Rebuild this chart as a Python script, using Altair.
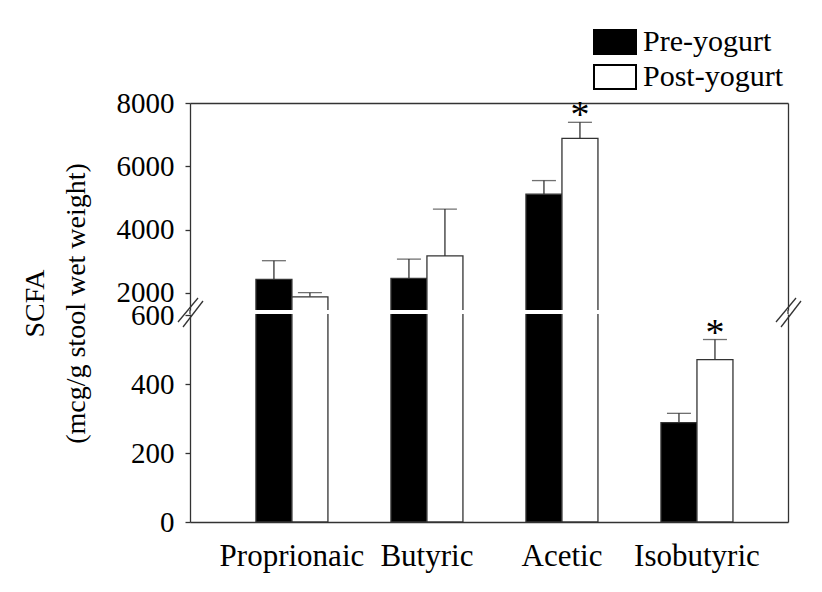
import altair as alt
import pandas as pd

# ---------------- data ----------------
categories = ["Proprionaic", "Butyric", "Acetic", "Isobutyric"]
groups = ["Pre-yogurt", "Post-yogurt"]
pre_mean = [2430, 2460, 5120, 288]
pre_upper = [3020, 3070, 5550, 315]
post_mean = [1880, 3170, 6880, 471]
post_upper = [2010, 4650, 7390, 529]
post_significant = [False, False, True, True]

rows = []
for i, c in enumerate(categories):
    rows.append({"category": c, "group": groups[0], "value": pre_mean[i],
                 "upper": pre_upper[i], "star": ""})
    rows.append({"category": c, "group": groups[1], "value": post_mean[i],
                 "upper": post_upper[i],
                 "star": "*" if post_significant[i] else ""})
df = pd.DataFrame(rows)

# ---------------- styling ----------------
FONT = "Liberation Serif"
LINE = "#333333"
W = 598
H_TOP = 207
H_BOT = 208
TOP_DOMAIN = [1463, 8000]
BOT_DOMAIN = [0, 603]

x_scale = alt.Scale(paddingInner=0.4667, paddingOuter=0.448, align=0.545)
xoff = alt.XOffset("group:N", sort=groups,
                   scale=alt.Scale(paddingInner=0, paddingOuter=0))
color = alt.Color(
    "group:N", sort=groups,
    scale=alt.Scale(domain=groups, range=["#000000", "#ffffff"]),
    legend=alt.Legend(
        orient="none", legendX=410, legendY=-76, title=None,
        labelFont=FONT, labelFontSize=30, labelColor="#000",
        symbolType="M-1.75,-1L1.75,-1L1.75,1L-1.75,1Z", symbolSize=576,
        symbolStrokeColor="#000", symbolStrokeWidth=2, symbolOpacity=1,
        rowPadding=3, labelOffset=13, padding=0,
    ),
)


def seg(x1, y1, x2, y2):
    return alt.Chart(alt.Data(values=[{}])).mark_rule(
        color=LINE, strokeWidth=1.3
    ).encode(x=alt.value(x1), y=alt.value(y1), x2=alt.value(x2), y2=alt.value(y2))


def panel(domain, height, yvalues, bottom, title):
    if bottom:
        xaxis = alt.Axis(orient="bottom", title=None, ticks=False, labelAngle=0,
                         labelFont=FONT, labelFontSize=31, labelColor="#000",
                         labelPadding=19, domainColor=LINE, domainWidth=1.3)
    else:
        xaxis = alt.Axis(orient="top", title=None, ticks=False, labels=False,
                         domainColor=LINE, domainWidth=1.3)
    x = alt.X("category:N", sort=categories, scale=x_scale, axis=xaxis)

    left_kwargs = dict(
        orient="left", values=yvalues, format="d", labelOverlap=False,
        labelFont=FONT, labelFontSize=29, labelColor="#000", labelPadding=11,
        tickSize=5, tickColor=LINE, tickWidth=1.3, domainColor=LINE,
        domainWidth=1.3, grid=False,
    )
    if title:
        left_kwargs.update(
            title=["SCFA", "(mcg/g stool wet weight)"], titleFont=FONT,
            titleFontSize=28, titleFontWeight="normal", titleColor="#000",
            titleAngle=270, titleX=-155, titleY=200, titleAlign="center",
            titleBaseline="middle", titleLineHeight=41,
        )
    else:
        left_kwargs.update(title=None)
    yaxis_left = alt.Axis(**left_kwargs)
    yaxis_right = alt.Axis(orient="right", title=None, labels=False, ticks=False,
                           grid=False, domainColor=LINE, domainWidth=1.3)

    base = alt.Chart(df)
    bars = base.mark_bar(stroke=LINE, strokeWidth=1.3, clip=True).encode(
        x=x, xOffset=xoff,
        y=alt.Y("value:Q", scale=alt.Scale(domain=domain, nice=False, zero=False),
                axis=yaxis_left),
        color=color,
    )
    errs = base.mark_rule(color=LINE, strokeWidth=1.3, clip=True).encode(
        x=x, xOffset=xoff,
        y=alt.Y("value:Q", axis=yaxis_right),
        y2="upper:Q",
    )
    caps = base.mark_tick(color=LINE, thickness=1.3, size=24, clip=True).encode(
        x=x, xOffset=xoff,
        y=alt.Y("upper:Q", axis=None),
    )
    stars = base.transform_filter(
        (alt.datum.star != "") & (alt.datum.upper >= domain[0]) & (alt.datum.upper <= domain[1])
    ).mark_text(font=FONT, fontSize=38, baseline="alphabetic", dy=5, color="#000").encode(
        x=x, xOffset=xoff,
        y=alt.Y("upper:Q", axis=None),
        text="star:N",
    )
    layers = [errs, caps, bars, stars]
    return alt.layer(*layers).resolve_axis(y="independent").properties(
        width=W, height=height
    )


top = panel(TOP_DOMAIN, H_TOP, [2000, 4000, 6000, 8000], bottom=False, title=True)
# axis-break marks and frame bridging (decoration, in top-panel pixel coords)
decor = [
    seg(-12, 219, 8, 195), seg(-7, 224, 13, 198),
    seg(W - 12, 219, W + 8, 195), seg(W - 7, 224, W + 13, 198),
    seg(0, H_TOP, 0, H_TOP + 4), seg(W, H_TOP, W, H_TOP + 4),
]
top = alt.layer(top, *decor)
bottom = panel(BOT_DOMAIN, H_BOT, [0, 200, 400, 600], bottom=True, title=False)

chart = alt.vconcat(top, bottom, spacing=4, bounds="flush").configure_view(
    stroke=None
).properties(
    padding={"left": 13, "top": 19, "right": 5, "bottom": 5}
)

chart.save("out.html", embed_options={"renderer": "svg", "actions": False})
